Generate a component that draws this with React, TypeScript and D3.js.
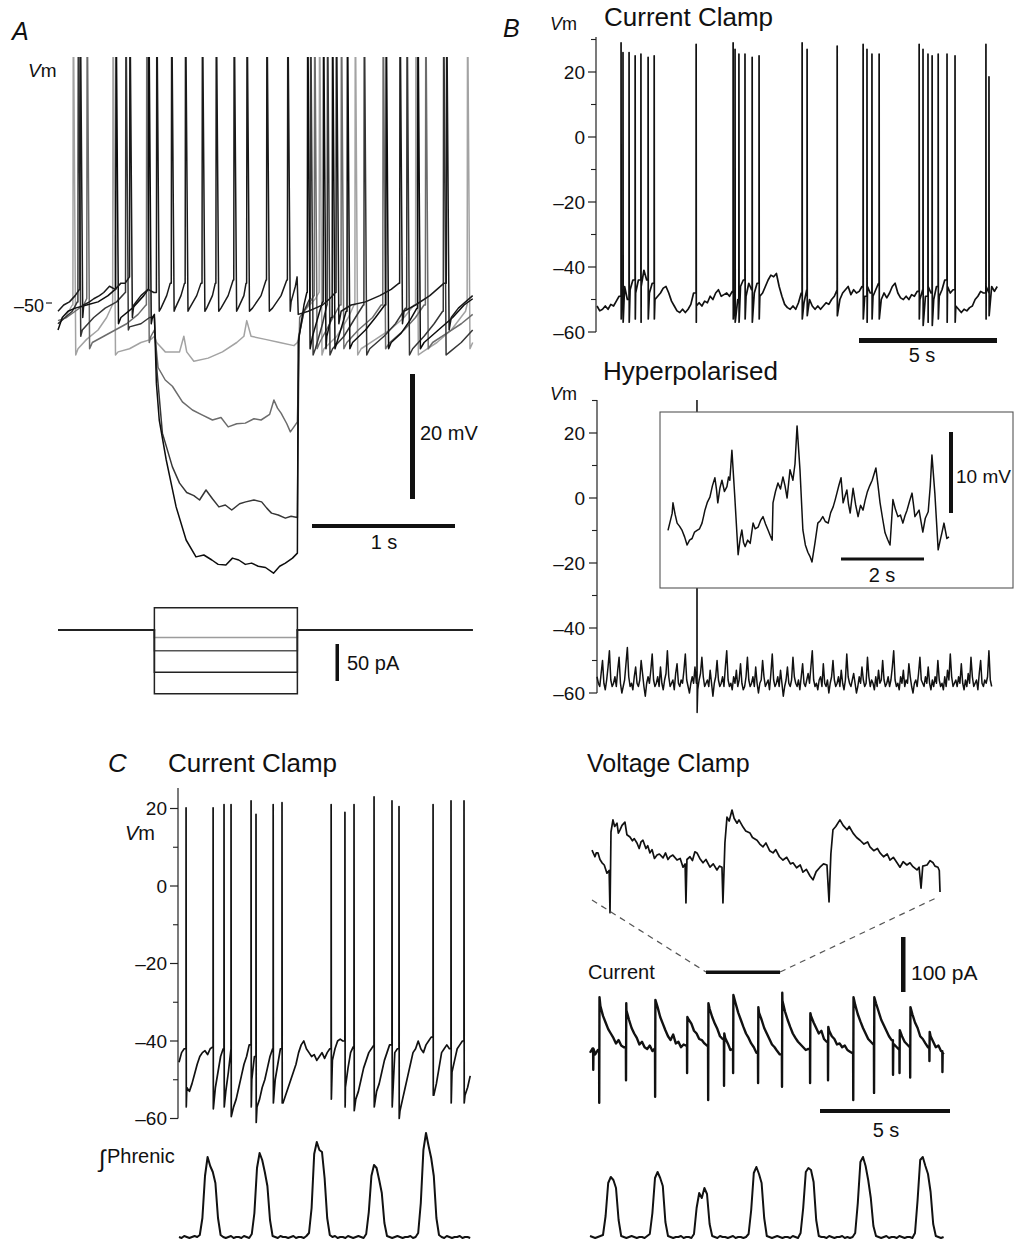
import React from 'react';
import * as d3 from 'd3';

type Pt = [number, number];
type Ev = [number, number, number];

const FONT = "'Liberation Sans', Arial, Helvetica, sans-serif";

// ---------------- Panel A : step protocol sweeps ----------------
const stepOn = 0.674;
const stepOff = 1.674;
const stepEnd = 2.9;
const stepCurrents = [30, -10, -28, -57, -86]; // pA
const sweepColors = ['#1a1a1a', '#a3a3a3', '#6c6c6c', '#363636', '#0d0d0d'];

const sweep1: Pt[] = [[0,-51],[0.04,-50],[0.08,-49.5],[0.12,-48.5],[0.15,-47.5],[0.18,-50],[0.22,-49.5],[0.25,-49],[0.29,-48.5],[0.32,-48],[0.36,-47],[0.4,-47.5],[0.44,-46.5],[0.47,-46.5],[0.5,-45.5],[0.53,-50],[0.58,-48.5],[0.63,-47.5],[0.67,-48],
[0.72,-50.5],[0.76,-48.5],[0.785,-46.5],[0.82,-50.5],[0.86,-48.5],[0.885,-46.5],[0.92,-50.5],[0.97,-48.5],[1.0,-46.5],[1.04,-50.5],[1.08,-48.5],[1.1,-46.5],[1.14,-50.5],[1.19,-48.5],[1.225,-46],[1.26,-50.5],[1.3,-48.5],[1.315,-46.5],[1.36,-50.5],[1.42,-48.5],[1.455,-46],[1.5,-50.5],[1.56,-48.5],[1.6,-46],[1.63,-49.5],[1.66,-47],[1.672,-45.5],
[1.68,-51.5],[1.75,-51],[1.8,-50.5],[1.85,-50],[1.9,-49],[1.94,-48],[1.98,-51],[2.05,-50],[2.15,-49.5],[2.25,-48.5],[2.33,-47.5],[2.385,-46.5],[2.42,-51],[2.5,-50],[2.6,-48.5],[2.7,-46.5],[2.75,-52],[2.8,-50.5],[2.85,-49.5],[2.9,-48.5]];
const sweep1Spikes: Ev[] = [[0.153,0,-52],[0.5,0,-52],[0.688,0,-51],[0.792,0,-51],[0.889,0,-51],[1.007,0,-51],[1.104,0,-51],[1.229,0,-51],[1.319,0,-51],[1.458,0,-51],[1.604,0,-51],[1.944,0,-53],[2.389,0,-53],[2.715,0,-54]];

const sweep2: Pt[] = [[0,-53],[0.05,-52],[0.1,-50],[0.14,-57],[0.2,-55.5],[0.28,-54],[0.34,-52],[0.38,-50],[0.42,-57.5],[0.5,-57],[0.58,-56],[0.65,-55.5],[0.674,-55],[0.69,-56],[0.75,-57.5],[0.85,-57.5],[0.88,-55],[0.9,-57.5],[0.95,-59],[1.05,-58.5],[1.15,-57.5],[1.25,-56],[1.3,-55],[1.32,-52.5],[1.35,-55],[1.45,-55.5],[1.55,-56],[1.65,-56.5],[1.674,-56],[1.72,-51],[1.8,-49],[1.825,-48],[1.86,-57],[1.95,-55],[2.03,-52],[2.07,-50],[2.12,-57],[2.22,-55.5],[2.32,-54],[2.42,-52],[2.49,-50],[2.55,-57.5],[2.65,-56],[2.75,-54],[2.85,-51],[2.86,-50],[2.9,-56]];
const sweep2Spikes: Ev[] = [[0.104,0,-58],[0.382,0,-58],[1.826,0,-58],[2.076,0,-58],[2.5,0,-58],[2.861,0,-57]];

const sweep3: Pt[] = [[0,-52.5],[0.06,-52],[0.12,-51],[0.18,-50],[0.2,-49],[0.24,-56],[0.32,-55],[0.4,-54],[0.48,-53],[0.56,-51.5],[0.615,-50],[0.65,-55],[0.674,-54],[0.7,-60],[0.75,-62],[0.8,-63],[0.87,-65.5],[0.94,-66.8],[1.0,-67.5],[1.08,-68.4],[1.14,-68],[1.19,-69.5],[1.25,-69],[1.31,-68.9],[1.37,-68.2],[1.42,-68.4],[1.48,-67.5],[1.51,-65.2],[1.535,-66.5],[1.56,-67.3],[1.6,-69],[1.625,-70.3],[1.65,-69.5],[1.674,-68.7],[1.69,-52],[1.75,-50],[1.79,-48.5],[1.83,-56],[1.9,-53],[1.97,-50],[2.02,-56],[2.1,-54],[2.2,-52],[2.26,-50],[2.32,-56],[2.42,-54],[2.5,-52],[2.56,-50],[2.62,-56],[2.72,-54.5],[2.82,-53],[2.9,-51.5]];
const sweep3Spikes: Ev[] = [[0.201,0,-57],[0.618,0,-56],[1.792,0,-57],[1.979,0,-57],[2.271,0,-57],[2.569,0,-57]];

const sweep4: Pt[] = [[0,-53],[0.05,-52],[0.1,-51],[0.135,-49.5],[0.17,-54],[0.25,-52],[0.33,-50.5],[0.41,-49.5],[0.47,-48],[0.5,-53.5],[0.58,-53],[0.64,-52],[0.674,-52],[0.69,-60],[0.73,-70.5],[0.8,-75.9],[0.85,-78.5],[0.9,-80],[0.95,-80.5],[0.99,-81.2],[1.035,-79.6],[1.08,-81],[1.125,-82.3],[1.17,-82],[1.215,-82.8],[1.27,-81.8],[1.313,-81.5],[1.37,-81.2],[1.424,-81.5],[1.46,-82.5],[1.493,-83.3],[1.54,-83.6],[1.59,-84.1],[1.63,-83.8],[1.674,-84],[1.685,-55],[1.72,-51],[1.76,-49],[1.8,-57],[1.85,-53],[1.88,-50],[1.92,-57],[2.0,-55],[2.08,-52],[2.135,-50],[2.18,-57],[2.28,-55],[2.36,-53],[2.43,-50.5],[2.48,-57],[2.56,-55],[2.63,-53],[2.69,-51],[2.74,-57.5],[2.82,-56],[2.9,-54]];
const sweep4Spikes: Ev[] = [[0.139,0,-55],[0.472,0,-54],[1.764,0,-58],[1.882,0,-58],[2.139,0,-58],[2.438,0,-58],[2.694,0,-58]];

const sweep5: Pt[] = [[0,-54],[0.03,-52],[0.07,-51],[0.12,-50.5],[0.2,-50],[0.28,-49.5],[0.35,-48.5],[0.4,-47.5],[0.44,-52],[0.52,-50.5],[0.6,-48.5],[0.63,-47.5],[0.66,-52],[0.674,-51.5],[0.688,-62.5],[0.708,-68.4],[0.757,-74.8],[0.826,-82.3],[0.896,-87.6],[0.965,-90.3],[1.02,-90],[1.076,-90.8],[1.12,-91.5],[1.174,-91.6],[1.22,-90.5],[1.264,-90.8],[1.31,-91.5],[1.354,-91.3],[1.4,-91.8],[1.451,-92],[1.507,-92.9],[1.55,-91.8],[1.59,-91.3],[1.64,-90.5],[1.674,-89.7],[1.68,-56],[1.72,-50],[1.74,-48],[1.78,-55],[1.83,-51],[1.85,-49.5],[1.88,-55],[1.91,-52],[1.95,-56],[1.99,-53],[2.015,-51],[2.06,-56],[2.15,-54],[2.22,-52],[2.285,-50],[2.33,-56],[2.4,-54.5],[2.46,-52.5],[2.51,-50.5],[2.56,-56],[2.66,-54],[2.76,-52],[2.84,-50],[2.9,-49]];
const sweep5Spikes: Ev[] = [[0.403,0,-53],[0.632,0,-53],[1.743,0,-57],[1.854,0,-57],[1.917,0,-57],[2.021,0,-57],[2.292,0,-57],[2.514,0,-57]];

// ---------------- Panel B ----------------
const vmMajor = [-60, -40, -20, 0, 20];
const vmMinorB = [-50, -30, -10, 10, 30];
const vmMinorC = [-50, -30, -10, 10];

const ccDt = 0.1;
const ccVm = [
-52,-53.5,-53,-52,-53,-51.5,-52,-50.5,-49,-47,
-46,-50,-47,-44,-48,-44,-46,-41,-44,-48,
-45,-50,-49,-48,-46.5,-46,-48,-50.5,-52,-53.5,
-54,-53,-54,-53,-51.5,-48,-52,-51,-52,-50.5,
-51,-49,-50,-48,-47,-49,-48.5,-48,-49,-47.5,
-47,-50,-46,-44,-49,-45,-47,-48,-45,-49,
-48,-46,-44,-42.5,-43,-42,-46,-49,-51.5,-52.5,
-53,-52,-53,-51,-48,-51,-47,-50,-52,-53,
-52,-53,-52,-51,-51.5,-50,-49,-47,-50,-48,
-47,-46,-48.5,-47,-48,-47.5,-46,-49,-46,-48,
-49,-47,-45,-50,-48,-49.5,-48,-46,-45,-48,
-49.5,-50,-49,-50,-48.5,-49,-47.5,-50,-47,-49,
-46,-48,-50,-46,-49,-47,-44,-46,-48,-47,
-52,-53,-54,-53,-53.5,-52.5,-52,-50,-49,-47.5,
-48,-46,-48,-46,-47.5,-46];
const ccSpikes: Ev[] = [[0.87,29,-56],[0.94,26,-57],[1.16,26,-57],[1.38,25,-56],[1.59,25.5,-57],[1.85,24.5,-56],[2.07,25,-56],[3.59,28.5,-57],[4.93,29,-56],[5.0,27,-57],[5.14,25.5,-57],[5.36,25.5,-56],[5.62,24.5,-57],[5.87,25,-56],[7.43,29,-56],[7.61,27,-55],[8.7,28,-55],[9.64,28.5,-56],[9.78,27,-57],[9.96,25.5,-56],[10.22,25.5,-56],[11.67,28.5,-56],[11.81,27,-58],[11.99,25.5,-57],[12.14,25,-58],[12.36,25.5,-56],[12.68,25.5,-57],[12.97,25,-57],[14.09,28.5,-56],[14.2,18.5,-55]];

const hypDt = 0.05;
const hypVm = [
-55,-57,-58,-54,-50,-57,-59,-56,-52,-47,
-56,-58,-57,-55,-58,-53,-49,-57,-60,-58,
-56,-51,-46,-55,-58,-57,-59,-55,-52,-57,
-58,-56,-50,-54,-58,-61,-57,-55,-57,-53,
-48,-56,-58,-57,-55,-58,-52,-57,-59,-56,
-54,-47,-55,-58,-57,-56,-59,-54,-51,-57,
-58,-56,-57,-53,-48,-56,-58,-60,-57,-55,
-57,-52,-57,-59,-56,-54,-49,-55,-58,-57,
-56,-58,-53,-57,-61,-57,-55,-50,-56,-58,
-57,-55,-58,-52,-47,-56,-58,-57,-59,-55,
-57,-53,-58,-56,-51,-57,-59,-58,-55,-49,
-56,-58,-57,-55,-58,-52,-57,-60,-57,-56,
-50,-55,-58,-57,-56,-59,-54,-48,-56,-58,
-57,-55,-58,-53,-57,-61,-58,-56,-52,-57,
-58,-56,-49,-55,-57,-58,-56,-59,-55,-51,
-57,-58,-56,-54,-57,-52,-47,-56,-58,-57,
-59,-56,-55,-58,-51,-57,-58,-56,-60,-57,
-55,-50,-56,-58,-57,-55,-58,-53,-57,-59,
-56,-48,-55,-57,-58,-56,-54,-57,-60,-58,
-55,-57,-52,-56,-58,-57,-49,-55,-58,-56,
-57,-59,-55,-58,-53,-57,-56,-50,-56,-58,
-57,-55,-58,-56,-52,-47,-56,-58,-57,-59,
-55,-57,-53,-58,-56,-57,-51,-55,-58,-60,
-57,-56,-58,-54,-49,-56,-57,-58,-55,-57,
-52,-57,-59,-56,-58,-55,-57,-50,-56,-58,
-57,-59,-55,-58,-53,-56,-48,-55,-58,-57,
-56,-58,-55,-57,-51,-57,-59,-56,-58,-54,
-57,-49,-55,-58,-57,-56,-59,-54,-50,-57,
-58,-56,-57,-55,-47,-56,-58];
const hypSpikes: Ev[] = [[3.62, 40, -66]];

// inset (relative mV)
const insetTrace: Pt[] = [[0,-4],[0.1,-1.9],[0.12,-0.6],[0.17,-2],[0.22,-3.1],[0.28,-3.5],[0.34,-4],[0.4,-4.8],[0.46,-5.8],[0.52,-5.2],[0.58,-5],[0.64,-4.2],[0.7,-4],[0.76,-3.8],[0.82,-3.1],[0.86,-2.2],[0.89,-1.5],[0.95,-0.5],[1.01,0.1],[1.07,1.5],[1.13,2.5],[1.17,1],[1.2,-0.6],[1.25,1.2],[1.3,2.2],[1.36,0.8],[1.42,1.4],[1.46,2.6],[1.49,2.2],[1.54,5.9],[1.61,0.1],[1.69,-7],[1.74,-5],[1.78,-3.95],[1.82,-5.5],[1.86,-6],[1.92,-5.2],[1.98,-5.6],[2.05,-3.1],[2.1,-3.8],[2.17,-3.6],[2.23,-2.8],[2.29,-2.3],[2.35,-3.2],[2.41,-3.95],[2.46,-4.6],[2.51,-5.2],[2.53,-0.6],[2.59,0.8],[2.65,1.85],[2.71,1.1],[2.77,2.6],[2.82,1.5],[2.87,0],[2.94,3.5],[3.01,2.2],[3.06,4.2],[3.11,8.9],[3.18,3.5],[3.25,-3.95],[3.31,-5.8],[3.37,-6.7],[3.42,-7.2],[3.47,-7.9],[3.54,-5.6],[3.61,-3.1],[3.67,-2.8],[3.73,-2.3],[3.79,-2.9],[3.86,-3.1],[3.92,-1.8],[3.98,-1.1],[4.03,-0.2],[4.07,0.6],[4.12,1.6],[4.17,2.5],[4.22,-0.6],[4.27,0.3],[4.31,1],[4.35,-0.8],[4.39,-1.85],[4.46,1.2],[4.52,-0.8],[4.58,-2.3],[4.64,-0.9],[4.7,-1.5],[4.75,-0.3],[4.8,0.7],[4.86,1.5],[4.92,2.2],[5.01,3.7],[5.06,1.6],[5.11,-0.6],[5.17,-2.5],[5.23,-4.3],[5.29,-5.1],[5.35,-5.8],[5.42,-0.2],[5.48,-1.4],[5.54,-2.3],[5.6,-2.1],[5.66,-3.1],[5.71,-2.2],[5.76,-1.5],[5.82,-0.4],[5.88,0.6],[5.92,-1],[5.95,-2.3],[6.0,-1.9],[6.05,-1.5],[6.1,-3],[6.14,-4.2],[6.2,-2.5],[6.27,-1.7],[6.32,1.5],[6.36,5.3],[6.43,0.6],[6.51,-6.4],[6.56,-5.2],[6.6,-4.3],[6.65,-3.1],[6.72,-5],[6.77,-4.8]];

// ---------------- Panel C ----------------
const cDt = 0.1;
const cVm = [
-45.5,-43,-42,-52,-53,-51,-48.5,-46,-44,-43,
-42.5,-43.5,-42,-41.5,-52,-48,-44,-42,-53,-48,
-42,-57,-55,-52,-49,-46,-44,-41,-50,-44,
-57,-55,-52,-50,-47,-44,-42,-50,-46,-42,
-56,-54,-52,-50,-48,-46,-43,-41,-40,-42,
-43,-44,-43.5,-45,-44,-43,-44.5,-43,-42,-45,
-42,-40,-39.5,-40,-52,-47,-43,-41.5,-55,-53,
-50,-47,-45,-43,-42,-41,-53,-51,-48,-45,
-43,-41,-48,-43,-42,-58,-55,-52,-49,-46,
-43,-42,-40,-42,-43,-41,-40,-39,-54,-51,
-47,-43,-42,-41,-42,-48,-45,-42,-41,-40,
-54,-52,-49];
const cSpikes: Ev[] = [[0.27,20.2,-57],[1.31,20.2,-57.5],[1.73,21,-57],[2.0,21,-59.5],[2.77,22,-57],[2.96,18.5,-61],[3.62,21,-56],[3.96,21.5,-56],[5.85,21,-55],[6.38,19,-57],[6.73,21,-58],[7.5,23,-57],[8.19,22,-57],[8.46,20.5,-60],[9.77,21,-54],[10.46,22,-56],[10.96,22,-56]];

const phrenicLeft = [
1,0,2,1,0,1,2,1,
3,20,62,81,72,66,55,20,3,
1,0,1,2,0,1,1,0,2,1,0,
4,25,70,85,78,66,52,18,2,
1,0,2,1,1,0,1,2,0,1,1,0,2,
5,30,84,96,88,86,60,20,3,
1,2,0,1,1,0,2,1,0,1,2,1,0,
4,26,62,73,70,58,45,15,2,
1,0,1,2,1,0,1,1,2,0,1,
5,35,88,105,92,80,62,20,3,
1,0,2,1,0,1,1,2,0,1,1,0];

const phrenicRight = [
2,1,0,1,2,
3,22,55,61,58,50,18,2,
1,0,1,2,1,0,1,1,0,2,
4,25,60,66,60,52,16,2,
1,0,1,1,2,0,1,1,0,
4,30,45,40,50,44,14,2,
1,0,2,1,1,0,1,2,0,1,1,0,1,
4,28,65,71,64,55,20,2,
1,0,1,2,1,0,1,1,0,2,1,0,
5,30,66,70,68,56,18,2,
1,1,0,2,1,0,1,1,2,0,1,0,1,
5,35,76,81,72,58,40,12,2,
1,0,1,2,0,1,1,0,2,1,0,1,1,0,
5,38,78,81,72,64,46,14,2,
1,0,1];

const vcDt = 0.1;
const vcI = [
-5,3,-8,0,80,62,50,38,30,22,
12,18,8,5,72,55,40,30,22,10,
15,5,2,8,-2,3,78,60,48,36,
25,18,28,12,15,5,10,8,55,48,
35,30,20,18,12,8,75,60,48,38,
25,20,22,12,0,2,85,68,55,42,
30,22,12,5,-5,68,55,40,30,20,
10,5,-2,-8,90,70,55,42,30,22,
15,10,5,0,2,62,50,40,30,35,
20,15,35,25,20,10,12,5,8,0,
-3,-6,82,65,52,40,30,20,15,10,
85,70,55,45,35,25,18,10,5,0,
25,15,10,5,65,50,40,25,20,12,
5,25,15,5,8,-2,-8];
const vcEvents: Ev[] = [[0.12,-36,2],[0.35,-96,96],[1.38,-55,85],[2.5,-85,91],[3.73,-42,60],[4.54,-91,85],[5.15,-65,30],[5.5,-42,100],[6.46,-60,78],[7.38,-67,104],[8.46,-60,67],[9.15,-55,42],[10.12,-91,96],[10.92,-78,96],[11.65,-45,8],[11.9,-42,36],[12.31,-50,78],[13.05,-20,33],[13.55,-40,-5]];
const vcZoomWindow = [4.46, 7.31];

const vcZoom: Pt[] = [[0,27],[0.024,15],[0.035,22],[0.049,22],[0.065,10],[0.082,4],[0.1,0],[0.122,-15],[0.14,-10],[0.147,-87],[0.155,60],[0.171,82],[0.185,70],[0.204,76],[0.215,58],[0.229,64],[0.245,72],[0.269,78],[0.285,55],[0.31,51],[0.33,44],[0.345,48],[0.367,40],[0.385,30],[0.4,42],[0.416,45],[0.44,30],[0.455,35],[0.473,22],[0.49,28],[0.51,12],[0.531,18],[0.55,20],[0.58,13],[0.6,22],[0.62,10],[0.637,15],[0.66,18],[0.694,9],[0.72,12],[0.743,-4],[0.76,2],[0.767,-69],[0.775,10],[0.8,15],[0.82,8],[0.84,24],[0.857,22],[0.88,12],[0.906,4],[0.93,10],[0.963,-4],[0.99,2],[1.02,-9],[1.04,-2],[1.061,-4],[1.069,-69],[1.085,40],[1.102,87],[1.12,80],[1.143,100],[1.16,85],[1.184,76],[1.2,82],[1.233,69],[1.255,62],[1.29,58],[1.31,50],[1.347,45],[1.37,38],[1.396,33],[1.42,40],[1.45,26],[1.478,22],[1.5,28],[1.53,15],[1.559,9],[1.59,14],[1.62,2],[1.641,4],[1.67,-5],[1.7,0],[1.722,-13],[1.75,-8],[1.78,-20],[1.804,-27],[1.83,-12],[1.861,-4],[1.89,2],[1.918,0],[1.935,-67],[1.95,20],[1.967,64],[1.99,70],[2.024,82],[2.05,72],[2.082,64],[2.1,70],[2.131,58],[2.16,50],[2.188,45],[2.22,38],[2.25,42],[2.269,33],[2.3,26],[2.33,30],[2.351,22],[2.38,15],[2.41,20],[2.433,9],[2.46,14],[2.49,4],[2.514,-4],[2.54,6],[2.57,0],[2.596,4],[2.62,-3],[2.653,-9],[2.67,-4],[2.686,-42],[2.7,-2],[2.735,0],[2.76,8],[2.784,4],[2.8,-2],[2.824,-4],[2.835,-10],[2.841,-49]];

// ---------------- helpers ----------------
const sampled = (vals: number[], dt: number): Pt[] =>
  vals.map((v, i) => [Math.round(i * dt * 1e6) / 1e6, v] as Pt);

function withEvents(pts: Pt[], evs: Ev[], w1: number, w2: number): Pt[] {
  const out: Pt[] = [...pts];
  evs.forEach(([ts, a, b]) => {
    let prev = pts[0][1];
    for (const p of pts) {
      if (p[0] <= ts + 1e-9) prev = p[1];
      else break;
    }
    out.push([ts + 1e-4, prev], [ts + w1, a], [ts + w2, b]);
  });
  return out.sort((p, q) => p[0] - q[0]);
}

const dash = (v: number) => (v < 0 ? `\u2013${-v}` : `${v}`);

function VAxis({ x, y, top, bottom, major, minor, labelX, fs }: any) {
  return (
    <g>
      <line x1={x} x2={x} y1={top} y2={bottom} stroke="#222" strokeWidth={1.2} />
      {major.map((v: number) => (
        <g key={'M' + v}>
          <line x1={x - 8} x2={x} y1={y(v)} y2={y(v)} stroke="#222" strokeWidth={1.2} />
          <text x={labelX} y={y(v) + fs * 0.36} textAnchor="end" fontSize={fs} fill="#111">{dash(v)}</text>
        </g>
      ))}
      {minor.map((v: number) => (
        <line key={'m' + v} x1={x - 5} x2={x} y1={y(v)} y2={y(v)} stroke="#222" strokeWidth={1.1} />
      ))}
    </g>
  );
}

export default function App() {
  // scales
  const xA = d3.scaleLinear().domain([0, 1]).range([58, 201]);
  const yA = d3.scaleLinear().domain([-50, -30]).range([305, 180]);
  const yIA = d3.scaleLinear().domain([0, 50]).range([630, 593]);

  const xB = d3.scaleLinear().domain([0, 5]).range([597, 735]);
  const yB1 = d3.scaleLinear().domain([0, 20]).range([137, 72]);
  const yB2 = d3.scaleLinear().domain([0, 20]).range([498, 433]);
  const xIn = d3.scaleLinear().domain([0, 2]).range([668, 751]);
  const yIn = d3.scaleLinear().domain([0, 10]).range([498, 417]);

  const xC1 = d3.scaleLinear().domain([0, 5]).range([179, 309]);
  const yC = d3.scaleLinear().domain([0, 20]).range([886, 808.5]);
  const yPh = d3.scaleLinear().domain([0, 100]).range([1238, 1138]);
  const xC2 = d3.scaleLinear().domain([0, 5]).range([590, 720]);
  const yVC = d3.scaleLinear().domain([0, 100]).range([1050, 995]);
  const xVCz = d3.scaleLinear().domain([0, 1]).range([592, 714.5]);
  const yVCz = d3.scaleLinear().domain([0, 100]).range([865, 810]);

  const mk = (xs: any, ys: any) => d3.line<Pt>().x((d) => xs(d[0])).y((d) => ys(d[1]));

  const sweeps = [
    { pts: sweep2, sp: sweep2Spikes, c: sweepColors[1] },
    { pts: sweep3, sp: sweep3Spikes, c: sweepColors[2] },
    { pts: sweep4, sp: sweep4Spikes, c: sweepColors[3] },
    { pts: sweep5, sp: sweep5Spikes, c: sweepColors[4] },
    { pts: sweep1, sp: sweep1Spikes, c: sweepColors[0] },
  ];
  const lineA = mk(xA, yA);
  const lineIA = mk(xA, yIA);
  const currentOrder = [1, 2, 3, 4, 0];

  const lineB1 = mk(xB, yB1);
  const lineB2 = mk(xB, yB2);
  const lineIn = mk(xIn, yIn);
  const lineC = mk(xC1, yC);
  const linePhL = mk(xC1, yPh);
  const linePhR = mk(xC2, yPh);
  const lineVC = mk(xC2, yVC);
  const lineVCz = mk(xVCz, yVCz);

  const ccPath = lineB1(withEvents(sampled(ccVm, ccDt), ccSpikes, 0.002, 0.008)) || '';
  const hypPath = lineB2(withEvents(sampled(hypVm, hypDt), hypSpikes, 0.002, 0.008)) || '';
  const cPath = lineC(withEvents(sampled(cVm, cDt), cSpikes, 0.002, 0.01)) || '';
  const vcPath = lineVC(withEvents(sampled(vcI, vcDt), vcEvents, 0.005, 0.015)) || '';

  const zx0 = xC2(vcZoomWindow[0]);
  const zx1 = xC2(vcZoomWindow[1]);
  const zEndX = xVCz(vcZoom[vcZoom.length - 1][0]);

  const T = { fill: '#111' };

  return (
    <svg width={1014} height={1244} viewBox="0 0 1014 1244" fontFamily={FONT}
      style={{ position: 'absolute', left: 0, top: 0, background: '#fff' }}>
      <defs>
        <clipPath id="clipA"><rect x={0} y={57} width={500} height={700} /></clipPath>
        <clipPath id="clipB2"><rect x={590} y={400} width={424} height={330} /></clipPath>
      </defs>
      <rect x={0} y={0} width={1014} height={1244} fill="#fff" />

      {/* ---------- Panel A ---------- */}
      <text x={12} y={40} fontSize={25} fontStyle="italic" {...T}>A</text>
      <text x={28} y={77} fontSize={19} {...T}><tspan fontStyle="italic">V</tspan>m</text>
      <text x={44} y={312} fontSize={18} textAnchor="end" {...T}>{dash(-50)}</text>
      <line x1={46} x2={52} y1={yA(-50) - 2} y2={yA(-50) - 2} stroke="#222" strokeWidth={1.2} />
      <g clipPath="url(#clipA)" fill="none" strokeLinejoin="round">
        {sweeps.map((s, i) => (
          <path key={i} d={lineA(withEvents(s.pts, s.sp, 0.003, 0.02)) || ''} stroke={s.c} strokeWidth={1.5} />
        ))}
      </g>
      {/* current steps */}
      <g fill="none">
        {currentOrder.map((k) => {
          const I = stepCurrents[k];
          const pts: Pt[] = [[0, 0], [stepOn, 0], [stepOn, I], [stepOff, I], [stepOff, 0], [stepEnd, 0]];
          return <path key={k} d={lineIA(pts) || ''} stroke={k === 1 ? '#9c9c9c' : k === 2 ? '#555' : '#222'} strokeWidth={1.5} />;
        })}
      </g>
      {/* scale bars A */}
      <rect x={410} y={yA(-30) + 194} width={5} height={yA(-50) - yA(-30)} fill="#111" />
      <text x={420} y={440} fontSize={20} {...T}>20 mV</text>
      <rect x={312} y={524} width={xA(1) - xA(0)} height={4} fill="#111" />
      <text x={384} y={549} fontSize={20} textAnchor="middle" {...T}>1 s</text>
      <rect x={335.5} y={644} width={3.5} height={yIA(0) - yIA(50)} fill="#111" />
      <text x={347} y={670} fontSize={20} {...T}>50 pA</text>

      {/* ---------- Panel B top ---------- */}
      <text x={503} y={37} fontSize={25} fontStyle="italic" {...T}>B</text>
      <text x={550} y={30} fontSize={18} {...T}><tspan fontStyle="italic">V</tspan>m</text>
      <text x={604} y={26} fontSize={26} {...T}>Current Clamp</text>
      <VAxis x={596} y={yB1} top={37} bottom={yB1(-60)} major={vmMajor} minor={vmMinorB} labelX={585} fs={19} />
      <path d={ccPath} fill="none" stroke="#111" strokeWidth={1.7} strokeLinejoin="round" />
      <rect x={859} y={338} width={xB(5) - xB(0)} height={5} fill="#111" />
      <text x={922} y={362} fontSize={20} textAnchor="middle" {...T}>5 s</text>

      {/* ---------- Panel B bottom ---------- */}
      <text x={603} y={380} fontSize={26} {...T}>Hyperpolarised</text>
      <text x={550} y={400} fontSize={18} {...T}><tspan fontStyle="italic">V</tspan>m</text>
      <VAxis x={597} y={yB2} top={400} bottom={yB2(-60)} major={vmMajor} minor={vmMinorB} labelX={585} fs={19} />
      <g clipPath="url(#clipB2)">
        <path d={hypPath} fill="none" stroke="#111" strokeWidth={1.5} strokeLinejoin="round" />
      </g>
      {/* inset */}
      <rect x={660} y={412} width={353} height={176} fill="#fff" stroke="#555" strokeWidth={1.1} />
      <path d={lineIn(insetTrace) || ''} fill="none" stroke="#111" strokeWidth={1.5} strokeLinejoin="round" />
      <rect x={949} y={432} width={4} height={yIn(0) - yIn(10)} fill="#111" />
      <text x={956} y={483} fontSize={19} {...T}>10 mV</text>
      <rect x={841} y={557.5} width={xIn(2) - xIn(0)} height={3} fill="#111" />
      <text x={882} y={582} fontSize={20} textAnchor="middle" {...T}>2 s</text>

      {/* ---------- Panel C left ---------- */}
      <text x={108} y={772} fontSize={26} fontStyle="italic" {...T}>C</text>
      <text x={168} y={772} fontSize={26} {...T}>Current Clamp</text>
      <text x={125} y={840} fontSize={20} {...T}><tspan fontStyle="italic">V</tspan>m</text>
      <VAxis x={178} y={yC} top={788} bottom={yC(-60)} major={vmMajor} minor={vmMinorC} labelX={167} fs={19} />
      <path d={cPath} fill="none" stroke="#111" strokeWidth={1.7} strokeLinejoin="round" />
      <text x={99} y={1167} fontSize={24} {...T}>∫</text>
      <text x={107} y={1163} fontSize={20} {...T}>Phrenic</text>
      <path d={linePhL(sampled(phrenicLeft, 0.1)) || ''} fill="none" stroke="#111" strokeWidth={2} strokeLinejoin="round" />

      {/* ---------- Panel C right ---------- */}
      <text x={587} y={772} fontSize={25} {...T}>Voltage Clamp</text>
      <path d={lineVCz(vcZoom) || ''} fill="none" stroke="#111" strokeWidth={1.7} strokeLinejoin="round" />
      <line x1={592} y1={900} x2={zx0} y2={972} stroke="#555" strokeWidth={1.2} strokeDasharray="6,5" />
      <line x1={zx1} y1={972} x2={zEndX - 4} y2={898} stroke="#555" strokeWidth={1.2} strokeDasharray="6,5" />
      <rect x={zx0} y={970.5} width={zx1 - zx0} height={3.5} fill="#111" />
      <text x={588} y={979} fontSize={20} {...T}>Current</text>
      <rect x={901} y={937} width={4.5} height={yVC(0) - yVC(100)} fill="#111" />
      <text x={911} y={980} fontSize={21} {...T}>100 pA</text>
      <path d={vcPath} fill="none" stroke="#111" strokeWidth={2.4} strokeLinejoin="round" />
      <rect x={820} y={1109} width={xC2(5) - xC2(0)} height={4} fill="#111" />
      <text x={886} y={1137} fontSize={20} textAnchor="middle" {...T}>5 s</text>
      <path d={linePhR(sampled(phrenicRight, 0.1)) || ''} fill="none" stroke="#111" strokeWidth={2} strokeLinejoin="round" />
    </svg>
  );
}
